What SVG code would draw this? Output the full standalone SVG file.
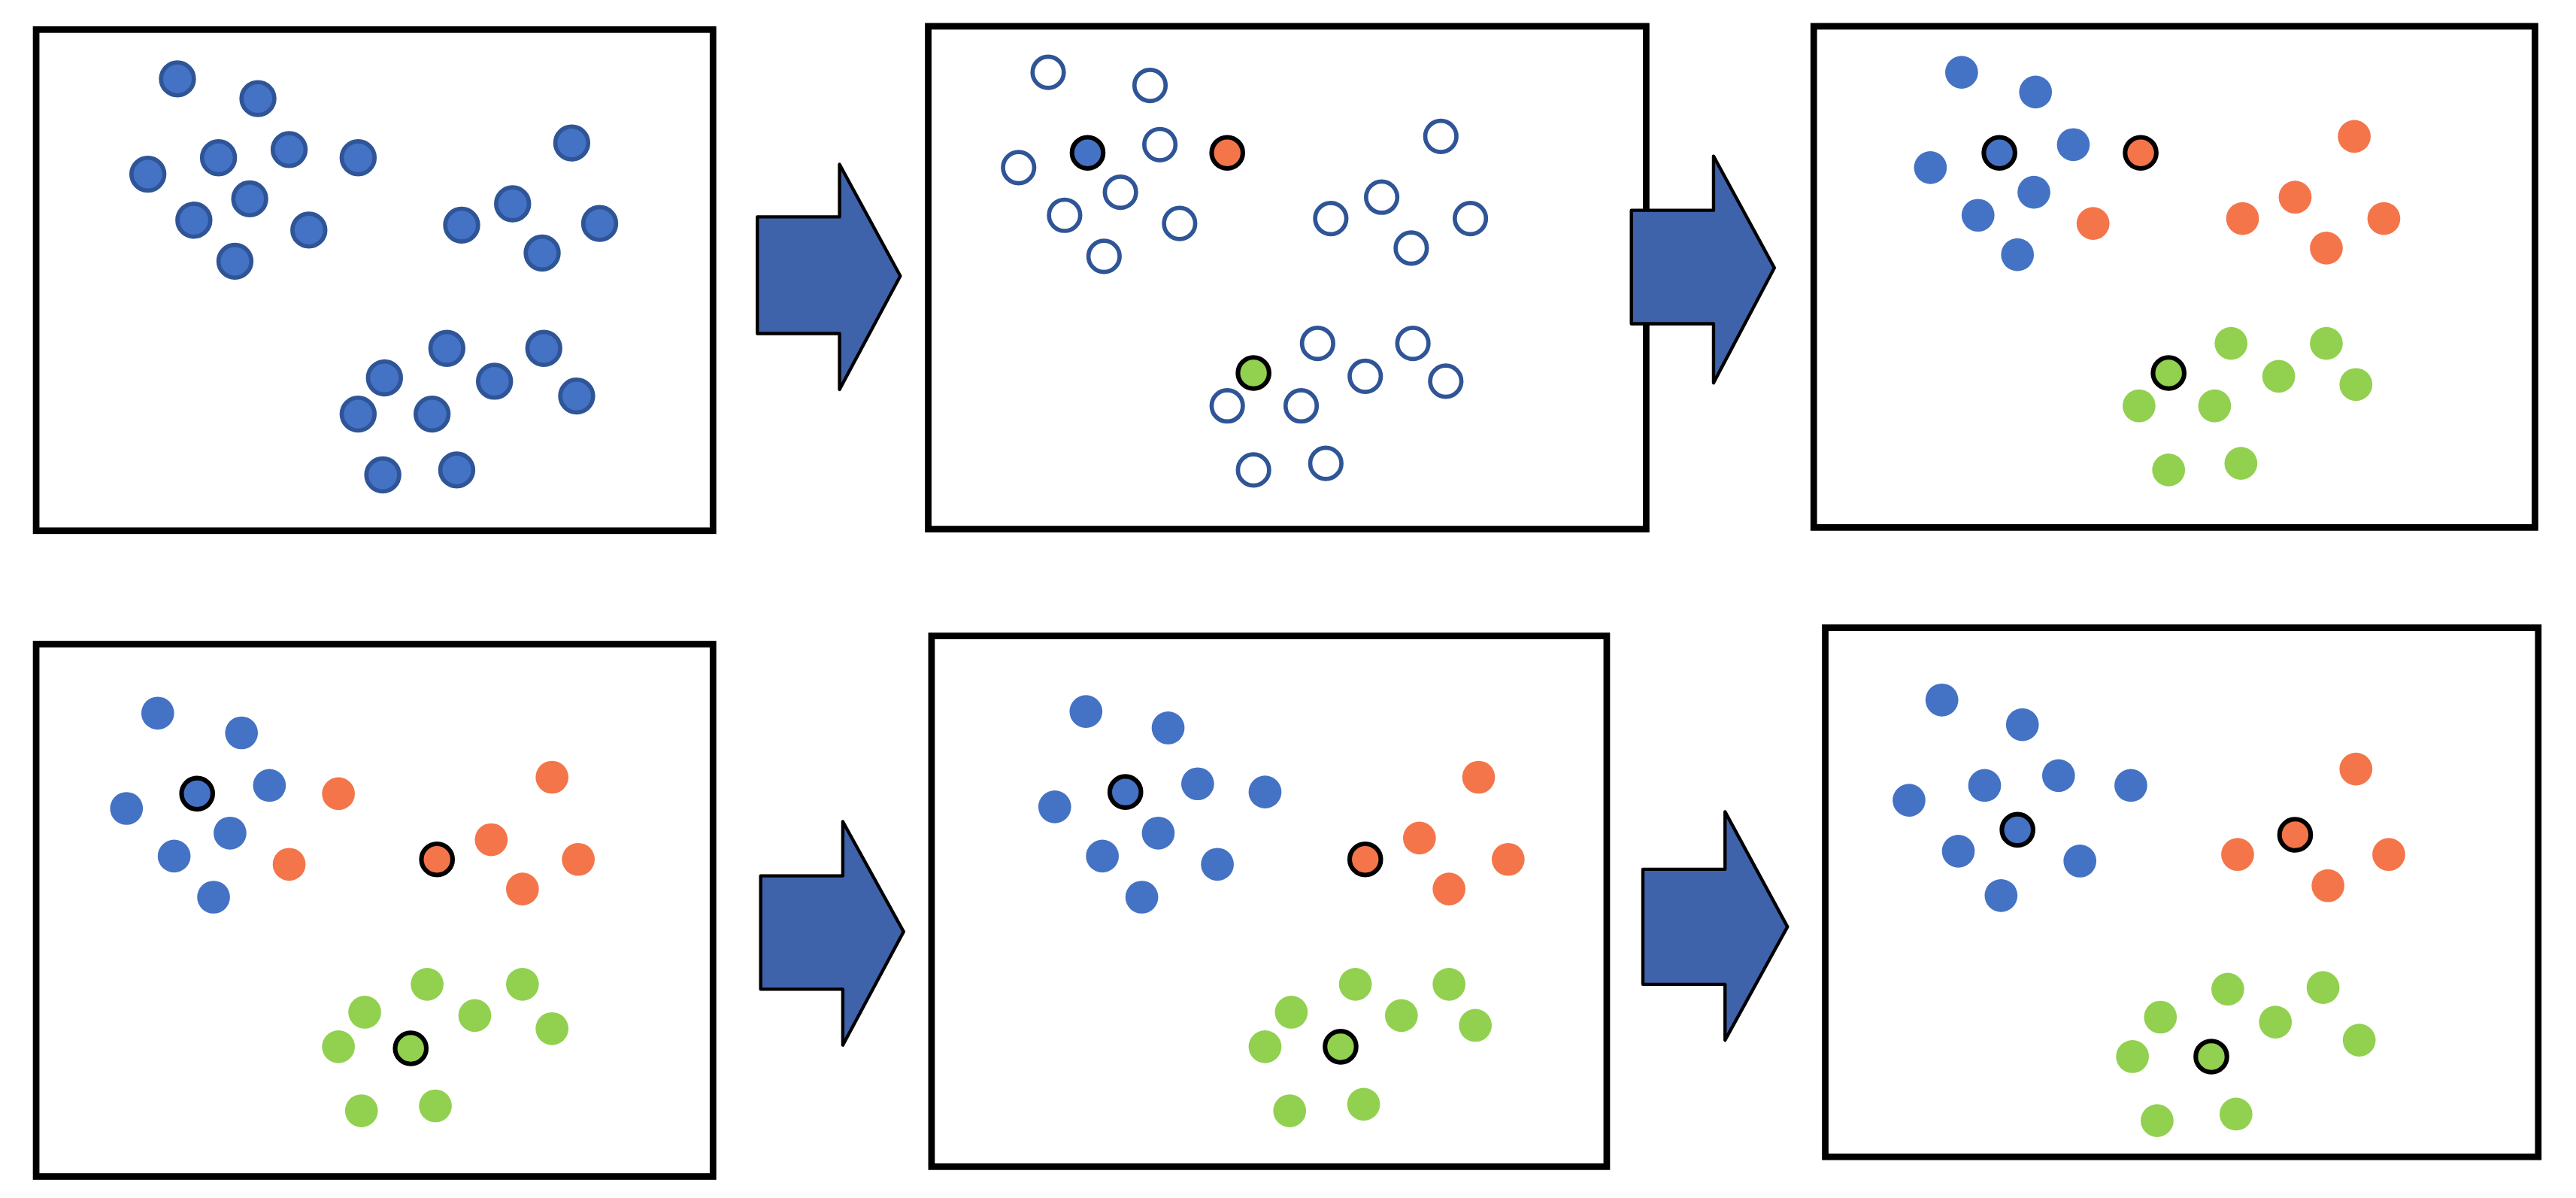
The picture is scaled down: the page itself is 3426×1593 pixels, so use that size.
<svg xmlns="http://www.w3.org/2000/svg" width="3426" height="1593" viewBox="0 0 3426 1593">
<style>
.f{fill:#fff;stroke:#000;stroke-width:4}
.d{fill:#4472C4;stroke:#2F5597;stroke-width:2.6}
.h{fill:#fff;stroke:#2F5597;stroke-width:2.6}
.b{fill:#4472C4}.o{fill:#F4754A}.g{fill:#92D050}
.c{stroke:#000;stroke-width:2.8}
.a{fill:#3F63AB;stroke:#000;stroke-width:2;stroke-linejoin:round}
</style>
<rect width="3426" height="1593" fill="#fff"/>
<g transform="scale(2.185)">
<g id="panel1">
<rect class="f" x="22" y="18" width="412" height="305"/>
<g class="d">
<circle cx="108" cy="48" r="10"/><circle cx="157" cy="60" r="10"/><circle cx="90" cy="106" r="10"/><circle cx="133" cy="96" r="10"/><circle cx="176" cy="91" r="10"/><circle cx="218" cy="96" r="10"/><circle cx="152" cy="121" r="10"/><circle cx="118" cy="134" r="10"/><circle cx="188" cy="140" r="10"/><circle cx="143" cy="159" r="10"/><circle cx="348" cy="87" r="10"/><circle cx="312" cy="124" r="10"/><circle cx="281" cy="137" r="10"/><circle cx="365" cy="136" r="10"/><circle cx="330" cy="154" r="10"/><circle cx="272" cy="212" r="10"/><circle cx="331" cy="212" r="10"/><circle cx="234" cy="230" r="10"/><circle cx="301" cy="232" r="10"/><circle cx="351" cy="241" r="10"/><circle cx="218" cy="252" r="10"/><circle cx="263" cy="252" r="10"/><circle cx="233" cy="289" r="10"/><circle cx="278" cy="286" r="10"/>
</g></g>
<g id="panel2">
<rect class="f" x="565" y="16" width="437" height="306"/>
<g class="h">
<circle cx="638" cy="44" r="9.5"/><circle cx="700" cy="52" r="9.5"/><circle cx="620" cy="102" r="9.5"/><circle cx="706" cy="88" r="9.5"/><circle cx="682" cy="117" r="9.5"/><circle cx="648" cy="131" r="9.5"/><circle cx="718" cy="136" r="9.5"/><circle cx="672" cy="156" r="9.5"/><circle cx="877" cy="83" r="9.5"/><circle cx="841" cy="120" r="9.5"/><circle cx="810" cy="133" r="9.5"/><circle cx="895" cy="133" r="9.5"/><circle cx="859" cy="151" r="9.5"/><circle cx="802" cy="209" r="9.5"/><circle cx="860" cy="209" r="9.5"/><circle cx="831" cy="229" r="9.5"/><circle cx="747" cy="247" r="9.5"/><circle cx="792" cy="247" r="9.5"/><circle cx="880" cy="232" r="9.5"/><circle cx="763" cy="286" r="9.5"/><circle cx="807" cy="282" r="9.5"/>
</g>
<circle class="b c" cx="662" cy="93" r="9.5"/><circle class="o c" cx="747" cy="93" r="9.5"/><circle class="g c" cx="763" cy="227" r="9.5"/>
</g>
<g id="panel3">
<rect class="f" x="1104" y="16" width="439" height="305"/>
<g class="b"><circle cx="1194" cy="44" r="10"/><circle cx="1239" cy="56" r="10"/><circle cx="1175" cy="102" r="10"/><circle cx="1262" cy="88" r="10"/><circle cx="1238" cy="117" r="10"/><circle cx="1204" cy="131" r="10"/><circle cx="1228" cy="155" r="10"/></g>
<g class="o"><circle cx="1433" cy="83" r="10"/><circle cx="1397" cy="120" r="10"/><circle cx="1365" cy="133" r="10"/><circle cx="1451" cy="133" r="10"/><circle cx="1416" cy="151" r="10"/><circle cx="1274" cy="136" r="10"/></g>
<g class="g"><circle cx="1358" cy="209" r="10"/><circle cx="1416" cy="209" r="10"/><circle cx="1387" cy="229" r="10"/><circle cx="1302" cy="247" r="10"/><circle cx="1348" cy="247" r="10"/><circle cx="1434" cy="234" r="10"/><circle cx="1320" cy="286" r="10"/><circle cx="1364" cy="282" r="10"/></g>
<circle class="b c" cx="1217" cy="93" r="9.5"/><circle class="o c" cx="1303" cy="93" r="9.5"/><circle class="g c" cx="1320" cy="227" r="9.5"/>
</g>
<g id="panel4">
<rect class="f" x="22" y="392" width="412" height="324"/>
<g class="b"><circle cx="96" cy="434" r="10"/><circle cx="147" cy="446" r="10"/><circle cx="77" cy="492" r="10"/><circle cx="164" cy="478" r="10"/><circle cx="140" cy="507" r="10"/><circle cx="106" cy="521" r="10"/><circle cx="130" cy="546" r="10"/></g>
<g class="o"><circle cx="206" cy="483" r="10"/><circle cx="176" cy="526" r="10"/><circle cx="336" cy="473" r="10"/><circle cx="299" cy="511" r="10"/><circle cx="352" cy="523" r="10"/><circle cx="318" cy="541" r="10"/></g>
<g class="g"><circle cx="260" cy="599" r="10"/><circle cx="318" cy="599" r="10"/><circle cx="289" cy="618" r="10"/><circle cx="222" cy="616" r="10"/><circle cx="206" cy="637" r="10"/><circle cx="336" cy="626" r="10"/><circle cx="220" cy="676" r="10"/><circle cx="265" cy="673" r="10"/></g>
<circle class="b c" cx="120" cy="483" r="9.5"/><circle class="o c" cx="266" cy="523" r="9.5"/><circle class="g c" cx="250" cy="638" r="9.5"/>
</g>
<g id="panel5">
<rect class="f" x="567" y="387" width="411" height="323"/>
<g class="b"><circle cx="661" cy="433" r="10"/><circle cx="711" cy="443" r="10"/><circle cx="642" cy="491" r="10"/><circle cx="729" cy="477" r="10"/><circle cx="705" cy="507" r="10"/><circle cx="671" cy="521" r="10"/><circle cx="741" cy="526" r="10"/><circle cx="695" cy="546" r="10"/><circle cx="770" cy="482" r="10"/></g>
<g class="o"><circle cx="900" cy="473" r="10"/><circle cx="864" cy="510" r="10"/><circle cx="918" cy="523" r="10"/><circle cx="882" cy="541" r="10"/></g>
<g class="g"><circle cx="825" cy="599" r="10"/><circle cx="882" cy="599" r="10"/><circle cx="853" cy="618" r="10"/><circle cx="786" cy="616" r="10"/><circle cx="770" cy="637" r="10"/><circle cx="898" cy="624" r="10"/><circle cx="785" cy="676" r="10"/><circle cx="830" cy="672" r="10"/></g>
<circle class="b c" cx="685" cy="482" r="9.5"/><circle class="o c" cx="831" cy="523" r="9.5"/><circle class="g c" cx="816" cy="637" r="9.5"/>
</g>
<g id="panel6">
<rect class="f" x="1111" y="382" width="434" height="322"/>
<g class="b"><circle cx="1182" cy="426" r="10"/><circle cx="1231" cy="441" r="10"/><circle cx="1162" cy="487" r="10"/><circle cx="1208" cy="478" r="10"/><circle cx="1253" cy="472" r="10"/><circle cx="1297" cy="478" r="10"/><circle cx="1192" cy="518" r="10"/><circle cx="1266" cy="524" r="10"/><circle cx="1218" cy="545" r="10"/></g>
<g class="o"><circle cx="1434" cy="468" r="10"/><circle cx="1362" cy="520" r="10"/><circle cx="1454" cy="520" r="10"/><circle cx="1417" cy="539" r="10"/></g>
<g class="g"><circle cx="1356" cy="602" r="10"/><circle cx="1414" cy="601" r="10"/><circle cx="1385" cy="622" r="10"/><circle cx="1315" cy="619" r="10"/><circle cx="1298" cy="643" r="10"/><circle cx="1436" cy="633" r="10"/><circle cx="1313" cy="682" r="10"/><circle cx="1361" cy="678" r="10"/></g>
<circle class="b c" cx="1228" cy="505" r="9.5"/><circle class="o c" cx="1397" cy="508" r="9.5"/><circle class="g c" cx="1346" cy="643" r="9.5"/>
</g>
<g id="connectors">
<polygon class="a" points="461,132 511,132 511,100 548,168 511,237 511,203 461,203"/>
<polygon class="a" points="993,128 1043,128 1043,95 1080,163 1043,233 1043,197 993,197"/>
<polygon class="a" points="463,533 513,533 513,500 550,567 513,636 513,602 463,602"/>
<polygon class="a" points="1000,529 1050,529 1050,494 1088,564 1050,633 1050,599 1000,599"/>
</g>
</g>
</svg>
